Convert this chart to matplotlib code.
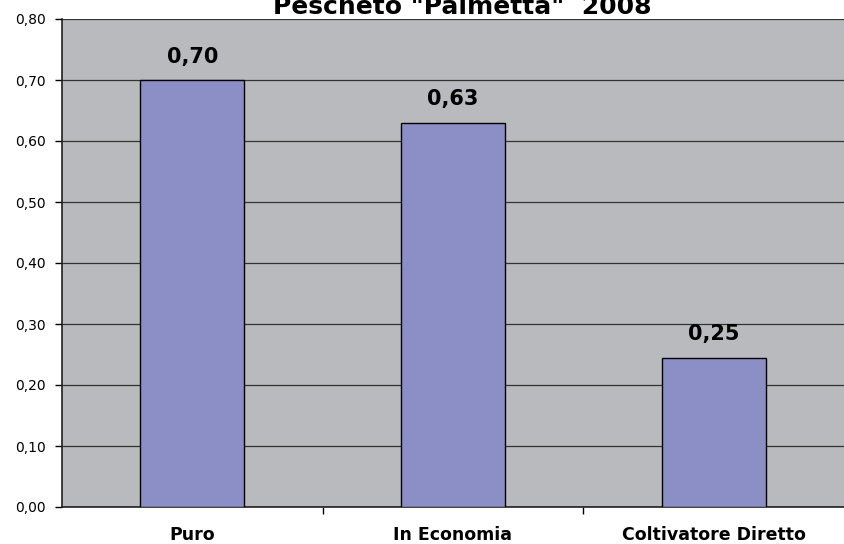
import matplotlib
matplotlib.use("Agg")
import matplotlib.pyplot as plt
import matplotlib.transforms as mtransforms
import numpy as np

categories = ["Puro", "In Economia", "Coltivatore Diretto"]
values = [0.70, 0.63, 0.245]
value_labels = ["0,70", "0,63", "0,25"]
yticks = [0.0, 0.1, 0.2, 0.3, 0.4, 0.5, 0.6, 0.7, 0.8]
ytick_labels = ["0,00", "0,10", "0,20", "0,30", "0,40", "0,50", "0,60", "0,70", "0,80"]
title = 'Pescheto "Palmetta"  2008'

plt.rcParams['font.family'] = ['DejaVu Sans']

fig = plt.figure(figsize=(8.44, 5.44), dpi=100)
ax = fig.add_axes([62/844, 37/544, 1 - 62/844, 488/544])
ax.set_facecolor('#B9BABD')

x = np.arange(len(categories)) + 0.5
ax.bar(x, values, width=0.4, color='#8C8EC6', edgecolor='black', linewidth=1, zorder=3)
for xi, v, lab in zip(x, values, value_labels):
    ax.annotate(lab, (xi, v), xytext=(0, 12.5), textcoords='offset points',
                ha='center', va='baseline', fontsize=15, fontweight='bold')

ax.set_xlim(0, 3)
ax.set_ylim(0, 0.8)
ax.set_yticks(yticks)
ax.set_yticklabels(ytick_labels, fontsize=10)
ax.yaxis.grid(True, color='#333333', linewidth=0.9, zorder=1)
ax.set_axisbelow(True)

ax.set_xticks([1, 2])
ax.set_xticklabels([])
trans = mtransforms.blended_transform_factory(ax.transData, ax.transAxes)
for xi, cat in zip(x, categories):
    ax.text(xi, -33/488, cat, transform=trans, ha='center', va='baseline',
            fontsize=12.5, fontweight='bold')
ax.tick_params(axis='x', which='major', length=5, width=1)
ax.tick_params(axis='y', length=5, width=1, pad=6.5)

for s in ['top', 'right']:
    ax.spines[s].set_visible(False)
ax.spines['left'].set_color('#202020')
ax.spines['bottom'].set_color('#202020')
ax.spines['left'].set_linewidth(1.2)
ax.spines['bottom'].set_linewidth(1.2)

fig.text(462/844, 1 - 13.5/544, title, ha='center', va='baseline', fontsize=18, fontweight='bold')

fig.savefig('out.png', dpi=100)
